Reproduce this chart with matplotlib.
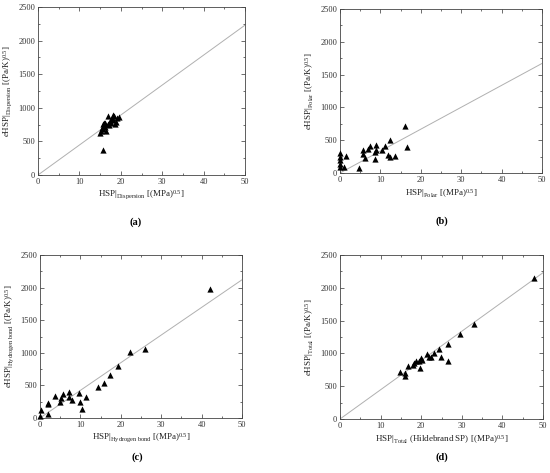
import matplotlib
matplotlib.use("Agg")
import matplotlib.pyplot as plt
from matplotlib.ticker import MultipleLocator

plt.rcParams['font.family'] = ['Liberation Serif', 'DejaVu Serif']
plt.rcParams['mathtext.fontset'] = 'custom'
plt.rcParams['mathtext.rm'] = 'Liberation Serif'
plt.rcParams['mathtext.it'] = 'Liberation Serif:italic'
plt.rcParams['mathtext.bf'] = 'Liberation Serif:bold'

# ---- data ----
disp_x = [15.0, 15.2, 15.5, 15.6, 15.7, 15.8, 16.0, 16.2, 16.3, 16.5, 16.8, 17.0, 17.2,
          17.5, 17.6, 17.8, 18.0, 18.2, 18.3, 18.5, 18.8, 19.0, 19.5]
disp_y = [620, 660, 700, 370, 760, 680, 780, 720, 770, 650, 760, 880, 750,
          800, 780, 850, 890, 820, 880, 760, 790, 850, 860]
disp_fit = [0, 2230]

polar_x = [0.1, 0.1, 0.1, 0.1, 0.1, 1.0, 1.4, 4.6, 5.7, 5.8, 6.3, 7.0, 7.4, 8.6, 8.6,
           8.9, 9.0, 10.3, 11.1, 11.9, 12.3, 12.4, 13.7, 16.1, 16.6]
polar_y = [306, 245, 194, 143, 92, 92, 260, 77, 352, 296, 230, 362, 418, 209, 321,
           423, 357, 347, 418, 281, 510, 240, 265, 724, 398]
polar_fit = [0, 1670]

hb_x = [0.2, 0.0, 1.9, 2.0, 2.1, 3.7, 5.0, 5.2, 5.8, 7.1, 7.1, 7.9, 9.6, 10.0, 10.5,
        11.3, 14.4, 15.8, 17.4, 19.4, 22.2, 26.0, 42.2]
hb_y = [122, 30, 214, 230, 61, 337, 240, 311, 372, 403, 320, 281, 388, 250, 143,
        321, 480, 536, 658, 801, 1010, 1051, 1974]
hb_fit = [0, 2120]

tot_x = [14.8, 15.9, 16.1, 16.8, 18.0, 18.3, 18.6, 19.5, 19.6, 19.9, 20.2, 21.4, 21.8,
         22.3, 23.1, 24.5, 24.9, 26.5, 26.7, 29.6, 33.0, 47.8]
tot_y = [709, 704, 648, 801, 816, 857, 877, 880, 776, 929, 900, 985, 940,
         950, 1000, 1066, 944, 1148, 888, 1291, 1444, 2143]
tot_fit = [0, 2230]

fit_x = [0, 50]

panels = [
    (disp_x, disp_y, disp_fit,
     r'HSP$|_{\mathrm{Dispersion}}$ [(MPa)$^{0.5}$]',
     r'$e$HSP$|_{\mathrm{Dispersion}}$ [(Pa/K)$^{0.5}$]', '(a)',
     [38, 7, 245, 175], 136, 222),
    (polar_x, polar_y, polar_fit,
     r'HSP$|_{\mathrm{Polar}}$ [(MPa)$^{0.5}$]',
     r'$e$HSP$|_{\mathrm{Polar}}$ [(Pa/K)$^{0.5}$]', '(b)',
     [340, 9, 542, 173], 442, 221),
    (hb_x, hb_y, hb_fit,
     r'HSP$|_{\mathrm{Hydrogen\ bond}}$ [(MPa)$^{0.5}$]',
     r'$e$HSP$|_{\mathrm{Hydrogen\ bond}}$ [(Pa/K)$^{0.5}$]', '(c)',
     [40, 255, 242, 418], 137, 457),
    (tot_x, tot_y, tot_fit,
     r'HSP$|_{\mathrm{Total}}$ (Hildebrand SP) [(MPa)$^{0.5}$]',
     r'$e$HSP$|_{\mathrm{Total}}$ [(Pa/K)$^{0.5}$]', '(d)',
     [340, 255, 543, 419], 442, 457),
]

W, H = 550, 473
fig = plt.figure(figsize=(W / 100, H / 100), dpi=100)

for xs, ys, fit, xl, yl, cap, box, cx, cy in panels:
    l, t, r, b = box
    ax = fig.add_axes([l / W, 1 - b / H, (r - l) / W, (b - t) / H])
    ax.plot(fit_x, fit, color='#b0b0b0', lw=0.7, zorder=1)
    ax.scatter(xs, ys, marker='^', s=20, color='black', linewidths=0, zorder=3,
               clip_on=False)
    ax.set_xlim(0, 50)
    ax.set_ylim(0, 2500)
    ax.xaxis.set_major_locator(MultipleLocator(10))
    ax.xaxis.set_minor_locator(MultipleLocator(5))
    ax.yaxis.set_major_locator(MultipleLocator(500))
    ax.yaxis.set_minor_locator(MultipleLocator(250))
    ax.tick_params(which='both', direction='in', top=True, right=True,
                   labelsize=6, width=0.5, pad=2, colors='#333333')
    ax.tick_params(which='major', length=3)
    ax.tick_params(which='minor', length=1.5)
    for s in ax.spines.values():
        s.set_linewidth(0.6)
        s.set_color('#444444')
    ax.set_xlabel(xl, fontsize=6.5, labelpad=2, color='#222222')
    ax.set_ylabel(yl, fontsize=6.5, labelpad=3, color='#222222')
    fig.text(cx / W, 1 - cy / H, cap, ha='center', va='center', fontsize=7.5,
             fontweight='bold')

fig.savefig('out.png', dpi=100, facecolor='white')
